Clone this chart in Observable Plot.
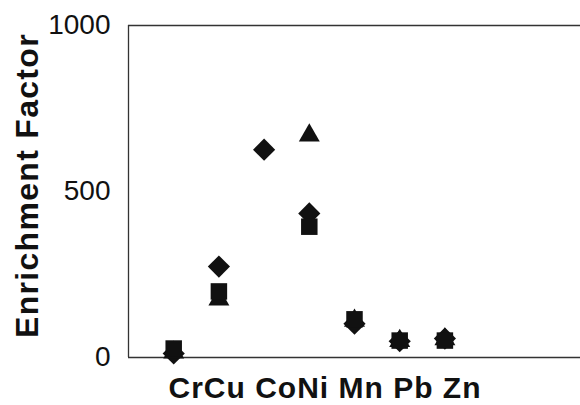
<!DOCTYPE html>
<html>
<head>
<meta charset="utf-8">
<script src="https://cdn.jsdelivr.net/npm/d3@7"></script>
<script src="https://cdn.jsdelivr.net/npm/@observablehq/plot@0.6"></script>
<style>
  html, body { margin: 0; padding: 0; background: #fff; }
  #chart svg { display: block; }
</style>
</head>
<body>
<div id="chart"></div>
<script>
// Categories (elements) and enrichment factors for three series
const categories = ["Cr", "Cu", "Co", "Ni", "Mn", "Pb", "Zn"];
const diamondValues  = [12, 274, 626, 434, 102, 49, 57];
const triangleValues = [15, 175, null, 669, 111, 50, 55];
const squareValues   = [27, 199, null, 394, 115, 51, 51];
const yTicks = [0, 500, 1000];
const yLabel = "Enrichment Factor";
// groups of tick labels as they appear on the x axis row
const xLabelGroups = [["Cr", "Cu"], ["Co", "Ni"], ["Mn"], ["Pb"], ["Zn"]];

const rows = categories.map((c, i) => ({
  cat: c,
  pos: i + 1,
  diamond: diamondValues[i],
  triangle: triangleValues[i],
  square: squareValues[i]
}));
const xLabelRow = xLabelGroups.map(g => g.join("")).join(" ");

const ink = "#111";
const chart = Plot.plot({
  width: 580,
  height: 405,
  marginLeft: 128,
  marginRight: 0,
  marginTop: 25,
  marginBottom: 48,
  style: { fontFamily: "'Liberation Sans', Arial, sans-serif", color: "#111", background: "#fff" },
  x: { domain: [0, 10], axis: null },
  y: { domain: [0, 1000], axis: null },
  marks: [
    Plot.ruleY([0, 1000], { stroke: "#333", strokeWidth: 1.3 }),
    Plot.ruleX([0], { stroke: "#333", strokeWidth: 1.3 }),
    Plot.axisY({ ticks: yTicks, tickSize: 0, tickPadding: 18, fontSize: 28, tickFormat: d3.format("d"), label: null }),
    Plot.text([yLabel], { frameAnchor: "left", textAnchor: "middle", rotate: -90, dx: -101, dy: -6, fontSize: 32, fontWeight: "bold", className: "ylab" }),
    Plot.text([xLabelRow], { frameAnchor: "bottom-left", textAnchor: "start", lineAnchor: "bottom", dx: 40, dy: 40, fontSize: 30, fontWeight: "bold", className: "xlab" }),
    Plot.dot(rows, { x: "pos", y: "diamond", symbol: "diamond2", r: 10, fill: ink, stroke: "none" }),
    Plot.dot(rows, { x: "pos", y: "triangle", symbol: "triangle2", r: 10, fill: ink, stroke: "none" }),
    Plot.dot(rows, { x: "pos", y: "square", symbol: "square2", r: 10.5, fill: ink, stroke: "none" })
  ]
});
d3.select(chart).selectAll(".xlab text").attr("letter-spacing", "1px");
d3.select(chart).selectAll(".ylab text").attr("letter-spacing", "1.3px");
document.getElementById("chart").appendChild(chart);
</script>
</body>
</html>
